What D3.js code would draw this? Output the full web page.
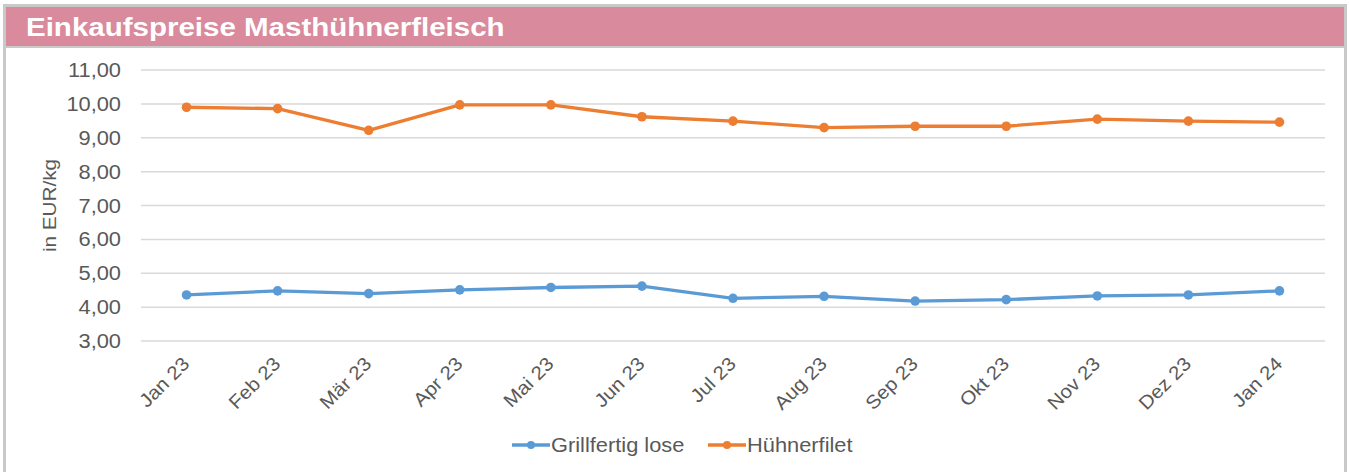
<!DOCTYPE html>
<html>
<head>
<meta charset="utf-8">
<script src="https://cdn.jsdelivr.net/npm/d3@7"></script>
<style>
  body { margin: 0; background: #fff; }
  text { font-family: "Liberation Sans", Arial, sans-serif; }
</style>
</head>
<body>
<svg id="chart" width="1349" height="472"></svg>
<script>
// data
const months = ["Jan 23", "Feb 23", "Mär 23", "Apr 23", "Mai 23", "Jun 23", "Jul 23",
                "Aug 23", "Sep 23", "Okt 23", "Nov 23", "Dez 23", "Jan 24"]
const grillfertig = [4.36, 4.48, 4.40, 4.51, 4.58, 4.62, 4.26, 4.32, 4.18, 4.22, 4.33, 4.36, 4.48]
const huehnerfilet = [9.90, 9.86, 9.22, 9.97, 9.97, 9.62, 9.49, 9.30, 9.34, 9.34, 9.55, 9.49, 9.46]
const yTicks = [3, 4, 5, 6, 7, 8, 9, 10, 11]

const series = [
    {name: "Grillfertig lose", values: grillfertig, color: "#5b9bd5"},
    {name: "Hühnerfilet", values: huehnerfilet, color: "#ed7d31"}
]

const svg = d3.select("#chart")
const grey = "#595959"

// frame + title band
svg.append("rect").attr("x", 4.5).attr("y", 5.5).attr("width", 1341).attr("height", 480)
    .attr("fill", "#fff").attr("stroke", "#c9c9c9").attr("stroke-width", 3)
svg.append("rect").attr("x", 6).attr("y", 7).attr("width", 1338).attr("height", 39)
    .attr("fill", "#d98a9c")
svg.append("rect").attr("x", 6).attr("y", 46).attr("width", 1338).attr("height", 2)
    .attr("fill", "#c9c9c9")
svg.append("text").attr("transform", "translate(26,36) scale(1.135,1)")
    .attr("fill", "#fff").attr("font-size", 26).attr("font-weight", "bold")
    .text("Einkaufspreise Masthühnerfleisch")

const plot = {left: 141, right: 1325, top: 70, bottom: 341}

const x = d3.scalePoint().domain(months).range([plot.left, plot.right]).padding(0.5)
const y = d3.scaleLinear().domain([3, 11]).range([plot.bottom, plot.top])

// gridlines
svg.append("g").selectAll("line").data(yTicks).join("line")
    .attr("x1", plot.left).attr("x2", plot.right)
    .attr("y1", d => y(d)).attr("y2", d => y(d))
    .attr("stroke", "#d9d9d9").attr("stroke-width", 1.5)

// y axis labels
const fmt = d => d3.format(".2f")(d).replace(".", ",")
svg.append("g").selectAll("text").data(yTicks).join("text")
    .attr("transform", d => `translate(121,${y(d)}) scale(1.12,1)`).attr("dy", "0.36em")
    .attr("text-anchor", "end").attr("font-size", 19.5).attr("fill", grey)
    .text(fmt)

svg.append("text")
    .attr("transform", `translate(56,${(plot.top + plot.bottom) / 2}) rotate(-90) scale(1.09,1)`)
    .attr("text-anchor", "middle").attr("font-size", 19).attr("fill", grey)
    .text("in EUR/kg")

// x axis labels
svg.append("g").selectAll("text").data(months).join("text")
    .attr("transform", d => `translate(${x(d) + 4},${plot.bottom + 24}) rotate(-45) scale(1.08,1)`)
    .attr("text-anchor", "end").attr("font-size", 19).attr("fill", grey)
    .text(d => d)

// lines + markers
const line = d3.line().x((d, i) => x(months[i])).y(d => y(d))
series.forEach(s => {
    svg.append("path").datum(s.values)
        .attr("d", line).attr("fill", "none")
        .attr("stroke", s.color).attr("stroke-width", 3.3).attr("stroke-linejoin", "round")
    svg.append("g").selectAll("circle").data(s.values).join("circle")
        .attr("cx", (d, i) => x(months[i])).attr("cy", d => y(d))
        .attr("r", 4.8).attr("fill", s.color)
})

// legend
const legendX = [512, 708]
series.forEach((s, i) => {
    const g = svg.append("g").attr("transform", `translate(${legendX[i]},445)`)
    g.append("line").attr("x1", 0).attr("x2", 38).attr("stroke", s.color).attr("stroke-width", 3.3)
    g.append("circle").attr("cx", 19).attr("r", 4).attr("fill", s.color)
    g.append("text").attr("transform", "translate(39,0) scale(1.12,1)").attr("dy", "0.36em")
        .attr("font-size", 19.5).attr("fill", grey).text(s.name)
})
</script>
</body>
</html>
